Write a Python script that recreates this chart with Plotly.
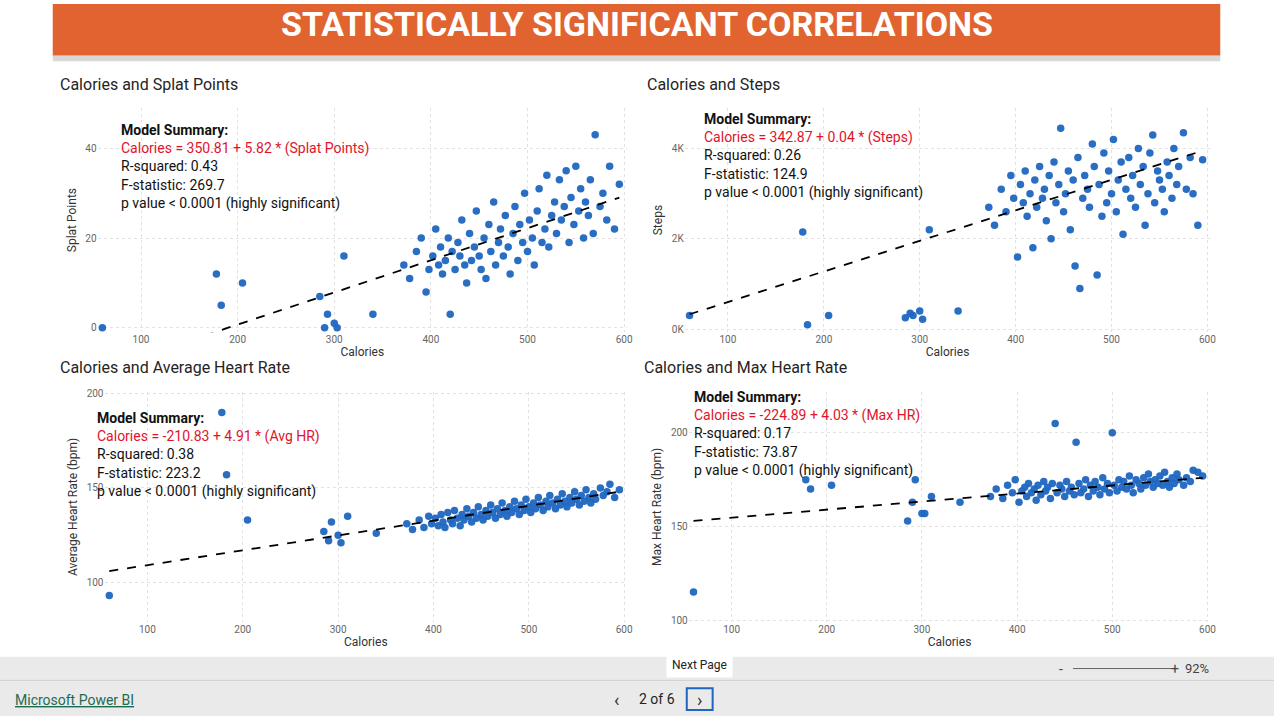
import plotly.graph_objects as go

# shared session data: calories and the four measures
calories = [60, 178, 183, 205, 285, 290, 293, 300, 303, 310, 340,
            372, 378, 385, 390, 395, 398, 402, 405, 408, 410, 412, 415, 418, 420, 422, 425, 428, 430, 432, 435,
            437, 440, 442, 445, 447, 450, 452, 455, 457, 460, 462, 465, 467, 470, 472, 475, 477, 480, 482, 485,
            487, 490, 492, 495, 497, 500, 502, 505, 507, 510, 512, 515, 518, 520, 522, 525, 528, 530, 533, 535,
            538, 540, 543, 545, 548, 550, 553, 555, 558, 560, 563, 565, 568, 570, 575, 578, 582, 585, 590, 595]
splat = [0, 12, 5, 10, 7, 0, 3, 1, 0, 16, 3,
         14, 11, 17, 20, 8, 13, 16, 22, 14, 18, 12, 15, 20, 3, 17, 13, 19, 16, 24, 14,
         10, 21, 15, 18, 26, 16, 13, 20, 11, 23, 17, 28, 14, 19, 22, 16, 25, 18, 12, 21,
         27, 15, 23, 19, 30, 17, 24, 20, 14, 26, 31, 19, 22, 34, 18, 25, 28, 21, 33, 24,
         27, 35, 19, 29, 23, 36, 26, 31, 20, 28, 25, 33, 21, 43, 27, 30, 24, 36, 22, 32]
steps = [300, 2150, 100, 300, 250, 350, 300, 400, 220, 2200, 400,
         2700, 2300, 3100, 2600, 3400, 2900, 1600, 3200, 2800, 3500, 2500, 3000, 1800, 3300, 2700, 3600, 2900, 3100, 2400, 3400,
         2000, 3700, 2800, 3200, 4450, 2600, 3000, 3500, 2200, 3300, 1400, 3800, 900, 2900, 3400, 3100, 2700, 4100, 3600, 1200,
         3200, 2500, 3900, 2800, 3500, 3000, 4200, 2600, 3300, 3700, 2100, 3100, 3800, 2900, 3400, 2700, 4000, 3200, 3600, 2300,
         3000, 3900, 4300, 2800, 3500, 3300, 3100, 2600, 3700, 3400, 2900, 4000, 3200, 3600, 4350, 3100, 3800, 3000, 2300, 3750]
avg_hr = [93, 190, 157, 133, 127, 122, 132, 125, 121, 135, 126,
          131, 128, 133, 129, 135, 131, 134, 130, 136, 132, 129, 137, 133, 131, 138, 134, 130, 136, 133, 139,
          135, 132, 137, 134, 140, 136, 133, 138, 135, 141, 137, 134, 139, 136, 142, 138, 135, 140, 137, 143,
          139, 136, 141, 138, 144, 140, 137, 142, 139, 145, 141, 138, 143, 140, 146, 142, 139, 144, 141, 147,
          143, 140, 145, 142, 148, 144, 141, 146, 143, 149, 145, 142, 147, 144, 150, 146, 148, 152, 145, 149]
max_hr = [115, 175, 170, 172, 153, 163, 175, 157, 157, 166, 163,
          166, 170, 165, 172, 168, 175, 163, 169, 171, 166, 173, 168, 170, 164, 172, 167, 174, 169, 171, 165,
          173, 205, 168, 172, 170, 166, 174, 169, 171, 167, 195, 173, 168, 170, 175, 166, 172, 169, 174, 171,
          167, 176, 170, 173, 168, 200, 172, 169, 175, 171, 174, 170, 177, 172, 168, 175, 173, 170, 176, 172,
          178, 174, 171, 175, 173, 177, 172, 179, 174, 171, 176, 173, 178, 175, 172, 176, 174, 180, 179, 177]

# trend line endpoints
trend_x = [60, 595]
trend_splat = [-9.3, 29]
trend_steps = [330, 3950]
trend_avg = [106, 148]
trend_max = [153, 176]

panels = [
    dict(title="Calories and Splat Points", y=splat, trend=trend_splat, ytitle="Splat Points",
         xd=(98, 630), yd=(105, 332), yr=[-1, 49], tickvals=[0, 20, 40], ticktext=["0", "20", "40"],
         eq="Calories = 350.81 + 5.82 * (Splat Points)", r2="0.43", f="269.7", ann=(120, 117)),
    dict(title="Calories and Steps", y=steps, trend=trend_steps, ytitle="Steps",
         xd=(688, 1216), yd=(105, 332), yr=[-70, 4900], tickvals=[0, 2000, 4000], ticktext=["0K", "2K", "4K"],
         eq="Calories = 342.87 + 0.04 * (Steps)", r2="0.26", f="124.9", ann=(705, 106)),
    dict(title="Calories and Average Heart Rate", y=avg_hr, trend=trend_avg, ytitle="Average Heart Rate (bpm)",
         xd=(105, 630), yd=(392, 625), yr=[79, 201], tickvals=[100, 150, 200], ticktext=["100", "150", "200"],
         eq="Calories = -210.83 + 4.91 * (Avg HR)", r2="0.38", f="223.2", ann=(95, 409)),
    dict(title="Calories and Max Heart Rate", y=max_hr, trend=trend_max, ytitle="Max Heart Rate (bpm)",
         xd=(692, 1216), yd=(392, 625), yr=[99, 222], tickvals=[100, 150, 200], ticktext=["100", "150", "200"],
         eq="Calories = -224.89 + 4.03 * (Max HR)", r2="0.17", f="73.87", ann=(695, 387)),
]

W, H = 1280, 720
FONT = "Roboto"
fig = go.Figure()
layout = {}

for i, p in enumerate(panels, start=1):
    xa, ya = f"x{i}", f"y{i}"
    fig.add_trace(go.Scatter(x=calories, y=p["y"], mode="markers", xaxis=xa, yaxis=ya,
                             marker=dict(color="#1F66C1", size=7.5, opacity=0.95), showlegend=False))
    fig.add_trace(go.Scatter(x=trend_x, y=p["trend"], mode="lines", xaxis=xa, yaxis=ya,
                             line=dict(color="black", width=1.8, dash="dash"), showlegend=False))
    key = "" if i == 1 else str(i)
    layout[f"xaxis{key}"] = dict(
        domain=[p["xd"][0] / W, p["xd"][1] / W], range=[55, 603], anchor=ya,
        tickvals=[100, 200, 300, 400, 500, 600], showgrid=True, gridcolor="#e2e2e2", griddash="dot",
        zeroline=False, tickfont=dict(size=10, color="#666"), ticks="",
        title=dict(text="Calories", font=dict(size=12, color="#333"), standoff=2))
    layout[f"yaxis{key}"] = dict(
        domain=[1 - p["yd"][1] / H, 1 - p["yd"][0] / H], range=p["yr"], anchor=xa,
        tickvals=p["tickvals"], ticktext=p["ticktext"], showgrid=True, gridcolor="#e2e2e2", griddash="dot",
        zeroline=False, tickfont=dict(size=10, color="#666"),
        title=dict(text=p["ytitle"], font=dict(size=12, color="#333"), standoff=6))
    # panel title
    fig.add_annotation(x=(p["xd"][0] - (40 if i in (1, 2) else 47)) / W, y=1 - (p["yd"][0] - 24) / H,
                       xref="paper", yref="paper", xanchor="left", yanchor="middle", showarrow=False,
                       text=p["title"], font=dict(size=16, color="#252423", family=FONT))
    # model summary
    fig.add_annotation(x=p["ann"][0] / W, y=1 - p["ann"][1] / H, xref="paper", yref="paper",
                       xanchor="left", yanchor="top", showarrow=False, align="left",
                       text=("<b>Model Summary:</b><br>"
                             f"<span style='color:#E0142B'>{p['eq']}</span><br>"
                             f"R-squared: {p['r2']}<br>F-statistic: {p['f']}<br>"
                             "p value &lt; 0.0001 (highly significant)"),
                       font=dict(size=14, color="#111", family=FONT))

shapes = [
    dict(type="rect", xref="paper", yref="paper", x0=53 / W, x1=1226 / W, y0=1 - 58 / H, y1=1 - 52 / H,
         fillcolor="#d8d8d8", line_width=0),
    dict(type="rect", xref="paper", yref="paper", x0=53 / W, x1=1226 / W, y0=1 - 52 / H, y1=1,
         fillcolor="#E16430", line_width=0),
    dict(type="rect", xref="paper", yref="paper", x0=0, x1=1, y0=0, y1=1 - 660 / H,
         fillcolor="#EAEAEA", line_width=0),
    dict(type="line", xref="paper", yref="paper", x0=0, x1=1, y0=1 - 684 / H, y1=1 - 684 / H,
         line=dict(color="#d0d0d0", width=1)),
    dict(type="line", xref="paper", yref="paper", x0=1078 / W, x1=1178 / W, y0=1 - 672 / H, y1=1 - 672 / H,
         line=dict(color="#666", width=1)),
    dict(type="rect", xref="paper", yref="paper", x0=690 / W, x1=716 / W, y0=1 - 714 / H, y1=1 - 692 / H,
         line=dict(color="#1F66C1", width=2)),
]

anns = [
    dict(x=0.5, y=1 - 20 / H, text="<b>STATISTICALLY SIGNIFICANT CORRELATIONS</b>",
         font=dict(size=34, color="white", family=FONT)),
    dict(x=13 / W, y=1 - 704 / H, xanchor="left", text="<u>Microsoft Power BI</u>",
         font=dict(size=14, color="#1E6B52", family=FONT)),
    dict(x=660 / W, y=1 - 703 / H, text="2 of 6", font=dict(size=14, color="#222", family=FONT)),
    dict(x=619 / W, y=1 - 703 / H, text="‹", font=dict(size=18, color="#333")),
    dict(x=703 / W, y=1 - 703 / H, text="›", font=dict(size=18, color="#333")),
    dict(x=703 / W, y=1 - 668 / H, text="Next Page", bgcolor="white", borderpad=5,
         font=dict(size=12, color="#222", family=FONT)),
    dict(x=1070 / W, y=1 - 672 / H, text="-", font=dict(size=14, color="#444")),
    dict(x=1187 / W, y=1 - 672 / H, text="+", font=dict(size=14, color="#444")),
    dict(x=1217 / W, y=1 - 672 / H, text="92%", font=dict(size=13, color="#444", family=FONT)),
]
for a in anns:
    a.update(xref="paper", yref="paper", showarrow=False)
    a.setdefault("yanchor", "middle")
    fig.add_annotation(**a)

fig.update_layout(width=W, height=H, margin=dict(l=0, r=0, t=0, b=0),
                  paper_bgcolor="white", plot_bgcolor="white", shapes=shapes,
                  font=dict(family=FONT), **layout)

fig.write_html("out.html", config={"displayModeBar": False},
               post_script="document.body.style.margin='0';document.body.style.overflow='hidden';")
